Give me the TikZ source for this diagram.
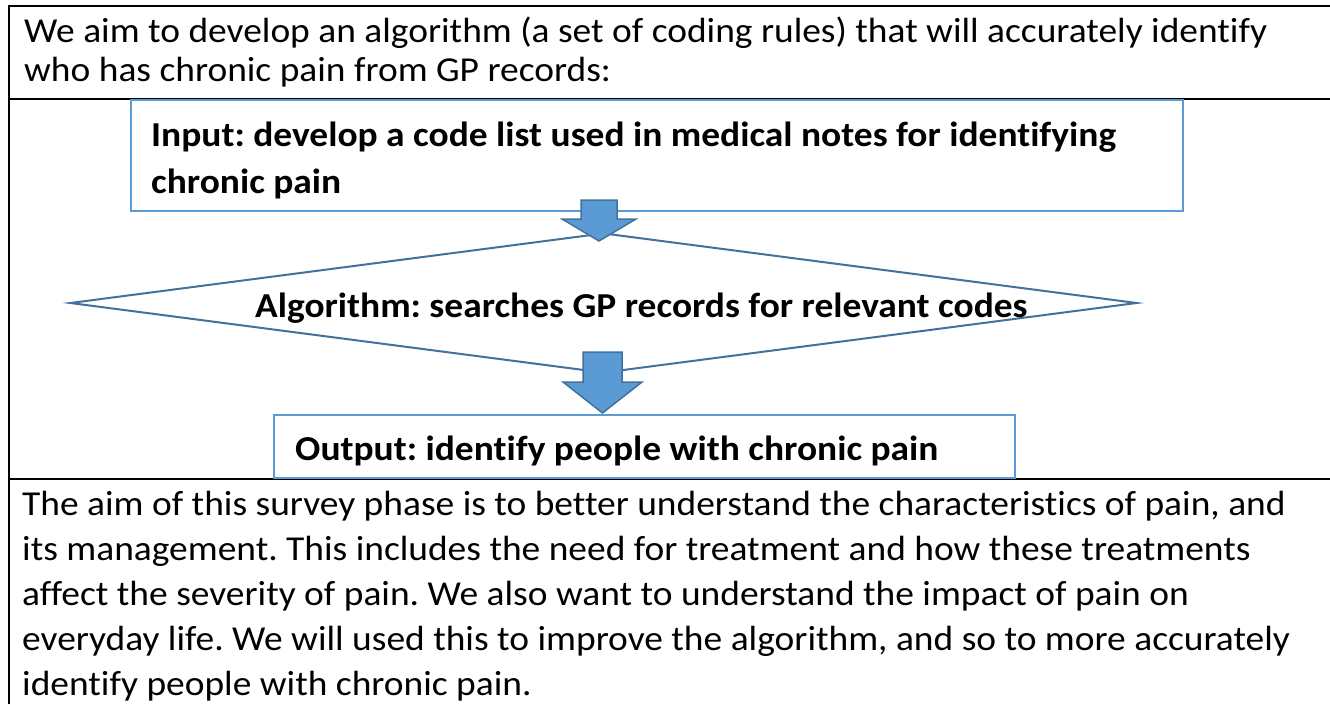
\documentclass[tikz,border=0pt]{standalone}
\usepackage{fontspec}
\setmainfont[FakeStretch=1.07,RawFeature={-liga;-clig;-calt;-dlig}]{Carlito}
\usetikzlibrary{shapes.geometric}
\definecolor{boxblue}{HTML}{5B9BD5}
\definecolor{linblue}{HTML}{41719C}
\definecolor{arrfill}{HTML}{5B9BD5}
\frenchspacing
\begin{document}
\begin{tikzpicture}[x=1pt,y=-1pt,
  txt/.style={font=\fontsize{35}{39.5}\selectfont, inner sep=0, anchor=base west, align=left},
  btxt/.style={txt, font=\fontsize{35}{47}\selectfont\bfseries},
  rule/.style={line width=2pt, black},
  flowbox/.style={draw=boxblue, line width=1.5pt, fill=white, inner sep=0},
  decision/.style={draw=linblue, line width=2pt, diamond, inner sep=0},
  arrowshape/.style={fill=arrfill, draw=linblue, line width=1.5pt, line join=miter},
]
\useasboundingbox (0,0) rectangle (1330,704);
% table rules
\draw[rule] (9,704) -- (9,6) -- (1330,6);
\draw[rule] (9,99) -- (1330,99);
\draw[rule] (9,479) -- (1330,479);
% top text (base = last line)
\node[txt] (aim) at (24,81.5) {We aim to develop an algorithm (a set of coding rules) that will accurately identify\\who has chronic pain from GP records:};
% flow
\node[flowbox, minimum width=1052pt, minimum height=111pt] (inp) at (657,155.5) {};
\node[btxt] (inptxt) at (151,193) {Input: develop a code list used in medical notes for identifying\\chronic pain};
\node[decision, minimum width=1067pt, minimum height=140pt] (alg) at (603.5,303) {};
\node[btxt] (algtxt) at (255,317) {Algorithm: searches GP records for relevant codes};
\node[flowbox, minimum width=741pt, minimum height=63pt] (out) at (644.5,446.5) {};
\node[btxt] (outtxt) at (295,460) {Output: identify people with chronic pain};
% block arrows
\draw[arrowshape] (581,200) -- (617,200) -- (617,219) -- (636,219) -- (599,241) -- (562,219) -- (581,219) -- cycle;
\draw[arrowshape] (583,352) -- (622,352) -- (622,382) -- (642,382) -- (602.5,413) -- (563,382) -- (583,382) -- cycle;
% bottom text (base = last line)
\node[txt, font=\fontsize{35}{45}\selectfont] (survey) at (22,695) {The aim of this survey phase is to better understand the characteristics of pain, and\\its management. This includes the need for treatment and how these treatments\\affect the severity of pain. We also want to understand the impact of pain on\\everyday life. We will used this to improve the algorithm, and so to more accurately\\identify people with chronic pain.};
\end{tikzpicture}
\end{document}
